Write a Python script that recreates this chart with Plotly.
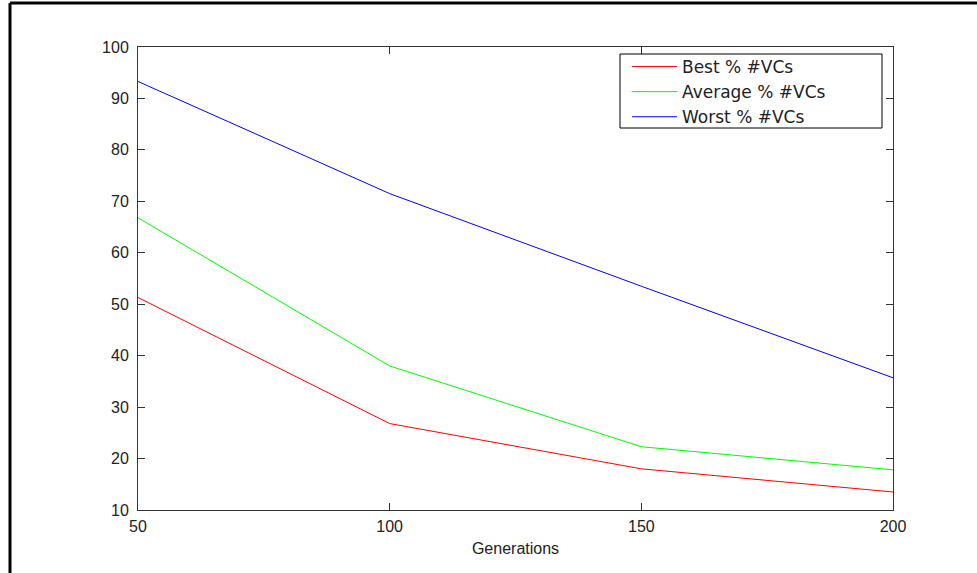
import plotly.graph_objects as go

generations = [50, 100, 150, 200]
best = [51.3, 26.8, 18.0, 13.5]
average = [66.8, 38.0, 22.3, 17.8]
worst = [93.3, 71.5, 53.5, 35.7]
series_names = ["Best % #VCs", "Average % #VCs", "Worst % #VCs"]
x_ticks = [50, 100, 150, 200]
y_ticks = [10, 20, 30, 40, 50, 60, 70, 80, 90, 100]

W, H = 977, 573
L, R, T, B = 138, 84, 47, 63
pw, ph = W - L - R, H - T - B


def px_x(p):
    return (p - L) / pw


def px_y(p):
    return 1 - (p - T) / ph


fig = go.Figure()
for name, vals, col in zip(series_names, [best, average, worst], ["#ff0000", "#00ff00", "#0000ff"]):
    fig.add_trace(go.Scatter(x=generations, y=vals, mode="lines", name=name,
                             line=dict(color=col, width=1)))

tick_font = dict(family="Liberation Sans, Arial", size=16, color="#222222")
axis_common = dict(showgrid=False, zeroline=False, ticks="inside", ticklen=7,
                   tickcolor="#333333", linecolor="#333333", linewidth=1,
                   mirror="ticks", showline=True, tickfont=tick_font)

fig.update_xaxes(range=[50, 200], tickvals=x_ticks, ticktext=[str(v) for v in x_ticks],
                 ticklabelstandoff=2,
                 title=dict(text="Generations", font=dict(family="Liberation Sans, Arial", size=16, color="#222222"),
                            standoff=8), **axis_common)
fig.update_yaxes(range=[10, 100], tickvals=y_ticks, ticktext=[str(v) for v in y_ticks],
                 ticklabelstandoff=5, **axis_common)

# outer figure frame (cropped on right and bottom)
fig.add_shape(type="line", xref="paper", yref="paper", x0=px_x(10), x1=px_x(10), y0=-0.3, y1=px_y(3),
              line=dict(color="black", width=3))
fig.add_shape(type="line", xref="paper", yref="paper", x0=px_x(10), x1=1.2, y0=px_y(3), y1=px_y(3),
              line=dict(color="black", width=3))
# legend box
fig.add_shape(type="rect", xref="paper", yref="paper", x0=px_x(620), x1=px_x(882),
              y0=px_y(128), y1=px_y(54), line=dict(color="black", width=1),
              fillcolor="white", layer="above")

fig.update_layout(
    width=W, height=H,
    margin=dict(l=L, r=R, t=T, b=B),
    paper_bgcolor="white", plot_bgcolor="white",
    showlegend=True,
    legend=dict(x=px_x(627), y=px_y(49), xanchor="left", yanchor="top",
                borderwidth=0, bgcolor="rgba(0,0,0,0)",
                font=dict(family="DejaVu Sans", size=17, color="#222222"),
                tracegroupgap=0, itemwidth=45),
)

fig.write_html("out.html", config={"displayModeBar": False},
               post_script="document.body.style.margin='0';")
